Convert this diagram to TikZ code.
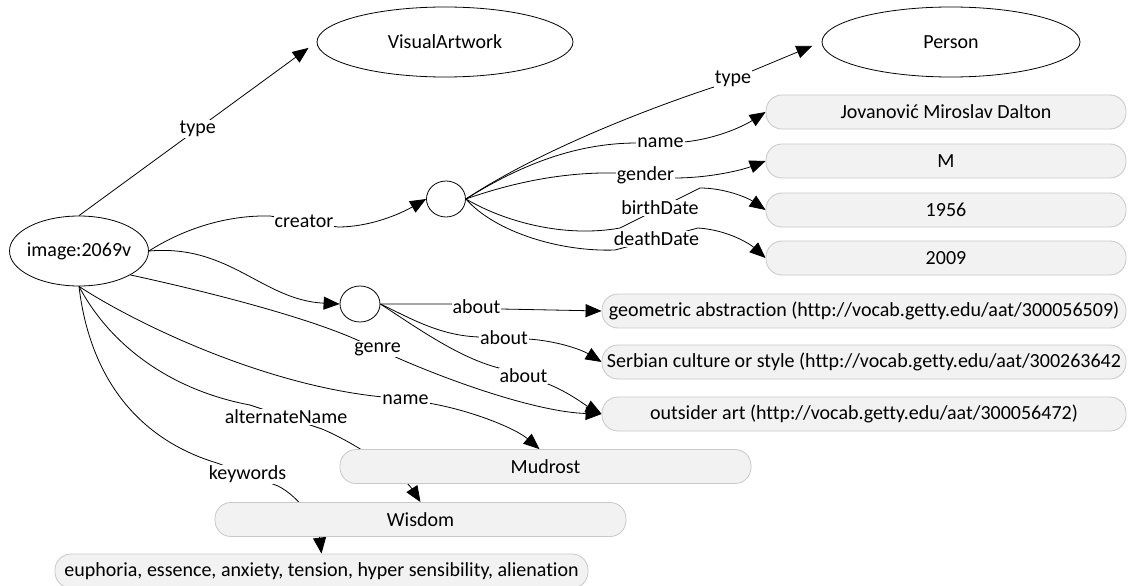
\documentclass[tikz,border=0pt]{standalone}
\usepackage{fontspec}
\setmainfont[Ligatures={NoCommon}]{Carlito}
\usetikzlibrary{shapes.geometric,arrows.meta,backgrounds}
\definecolor{litfill}{HTML}{F2F2F2}
\definecolor{litborder}{HTML}{C8C8C8}
\begin{document}
\begin{tikzpicture}[x=1pt,y=-1pt,
  every node/.style={font=\fontsize{20}{24}\selectfont},
  ell/.style={draw=black, line width=0.8pt, ellipse, fill=white, inner sep=0pt},
  lit/.style={draw=litborder, fill=litfill, rounded corners=16pt, line width=0.8pt, inner sep=0pt, minimum height=34pt},
  edge/.style={draw=black, line width=0.8pt, -{Triangle[length=16pt,width=13pt]}},
  lbl/.style={fill=white, inner sep=1pt}]
\useasboundingbox (0,0) rectangle (1128,586);
% resource nodes
\node[ell, inner xsep=-3pt, minimum width=138pt, minimum height=70pt] (img) at (79,251) {image:2069v};
\node[ell, minimum width=256pt, minimum height=70pt] (va) at (445,42) {VisualArtwork};
\node[ell, minimum width=258pt, minimum height=70pt] (per) at (951,42) {Person};
\node[ell, minimum width=39pt, minimum height=36pt] (b1) at (446,199) {};
\node[ell, minimum width=40pt, minimum height=36pt] (b2) at (360,304) {};
% literal nodes
\node[lit, minimum width=360pt] (jov) at (946,112) {Jovanović Miroslav Dalton};
\node[lit, minimum width=360pt] (m) at (946,161) {M};
\node[lit, minimum width=360pt] (y1) at (946,210) {1956};
\node[lit, minimum width=360pt] (y2) at (946,258) {2009};
\node[lit, minimum width=524pt] (geo) at (864,311) {geometric abstraction (http://vocab.getty.edu/aat/300056509)};
\node[lit, minimum width=524pt] (ser) at (864,362) {Serbian culture or style (http://vocab.getty.edu/aat/300263642};
\node[lit, minimum width=524pt] (out) at (864,414) {outsider art (http://vocab.getty.edu/aat/300056472)};
\node[lit, minimum width=411pt] (mud) at (545.5,466.5) {Mudrost};
\node[lit, minimum width=411pt] (wis) at (420.5,519.5) {Wisdom};
\node[lit, minimum width=533pt] (kw) at (321.5,571) {euphoria, essence, anxiety, tension, hyper sensibility, alienation};
\begin{pgfonlayer}{background}
% from image
\draw[edge, shorten >=10pt] (img.north) -- node[lbl]{type} (va.west);
\draw[edge] (img.east) .. controls (185,228) and (228,215) .. (270,216) -- node[lbl]{creator} (338,227) .. controls (370,227) and (400,214) .. (b1.west);
\draw[edge] (img.east) .. controls (230,244) and (262,300) .. (b2.west);
\draw[edge] (img.-25) .. controls (200,290) and (300,315) .. (355,339) -- node[lbl]{genre} (400,359) .. controls (460,385) and (540,412) .. (out.west);
\draw[edge] (img.south) .. controls (130,320) and (260,385) .. (383,397) -- node[lbl]{name} (428,403) .. controls (470,410) and (515,428) .. ([xshift=-6pt]mud.north);
\draw[edge] (img.south) .. controls (110,345) and (170,390) .. (250,405) -- node[lbl]{alternateName} (322,429) .. controls (360,445) and (405,478) .. (wis.north);
\draw[edge] (img.south) .. controls (90,380) and (140,440) .. (217,463) -- node[lbl]{keywords} (278,486) .. controls (300,497) and (318,525) .. (kw.north);
% from creator blank node
\draw[edge, shorten >=10pt] (b1.east) .. controls (540,150) and (650,108) .. (714,87) -- node[lbl]{type} (752,71) -- (per.west);
\draw[edge] (b1.east) .. controls (525,162) and (580,143) .. (637,143) -- node[lbl]{name} (684,142) .. controls (715,139) and (742,127) .. (jov.west);
\draw[edge] (b1.east) .. controls (520,180) and (570,172) .. (617,173) -- node[lbl]{gender} (674,178) .. controls (710,178) and (742,170) .. (m.west);
\draw[edge] (b1.east) .. controls (505,222) and (565,238) .. (620,228) -- node[lbl]{birthDate} (700,188) .. controls (725,188) and (748,198) .. (y1.west);
\draw[edge] (b1.east) .. controls (495,232) and (560,252) .. (615,250) -- node[lbl]{deathDate} (698,228) .. controls (728,230) and (750,244) .. (y2.west);
% from about blank node
\draw[edge] (b2.east) -- (452,304) -- node[lbl]{about} (501,309) -- (geo.west);
\draw[edge] (b2.east) .. controls (410,318) and (440,336) .. (480,337) -- node[lbl]{about} (528,339) .. controls (558,341) and (582,350) .. (ser.west);
\draw[edge] (b2.east) .. controls (420,330) and (460,358) .. (499,368) -- node[lbl]{about} (548,384) .. controls (570,393) and (585,405) .. (out.west);
\end{pgfonlayer}
\end{tikzpicture}
\end{document}
